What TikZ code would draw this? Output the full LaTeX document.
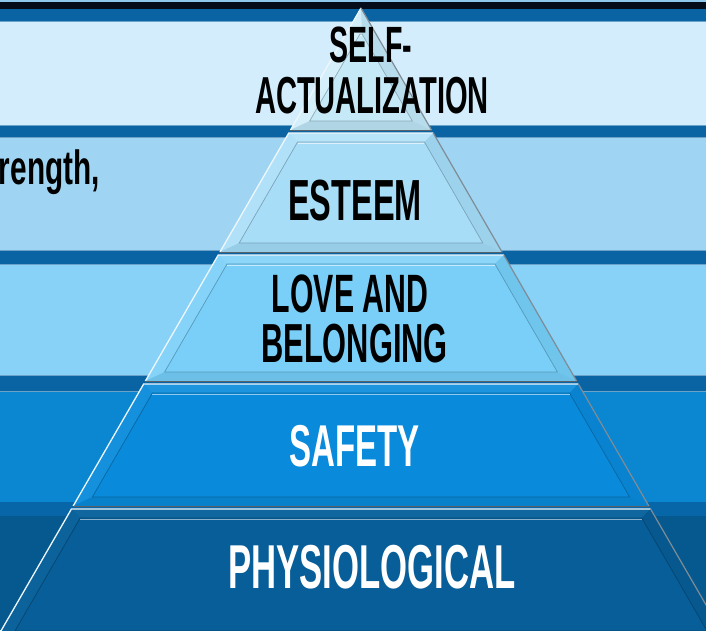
\documentclass[tikz,border=0pt]{standalone}
\usepackage{fontspec}
\newfontfamily\cond{Liberation Sans}[FakeStretch=0.56]
\newfontfamily\condside{Liberation Sans}[FakeStretch=0.62]
\newcommand\fsz[1]{\fontsize{#1}{#1}\selectfont}
\definecolor{topline}{HTML}{8EC8EC}
\definecolor{topblack}{HTML}{050D1A}
\definecolor{stripe}{HTML}{0A64A3}
\definecolor{stripefour}{HTML}{0766A8}
\definecolor{bandA}{HTML}{D3EDFC}
\definecolor{bandB}{HTML}{9FD5F3}
\definecolor{bandC}{HTML}{88D1F7}
\definecolor{bandD}{HTML}{0B86D0}
\definecolor{bandE}{HTML}{06598F}
\definecolor{tAbase}{HTML}{C6E9F8}
\definecolor{tAlight}{HTML}{DDF2FB}
\definecolor{tAdark}{HTML}{B0D6E6}
\definecolor{tBbase}{HTML}{A8DDF8}
\definecolor{tBlight}{HTML}{B8E4FA}
\definecolor{tBdark}{HTML}{98CDE8}
\definecolor{tCbase}{HTML}{7ACFF8}
\definecolor{tClight}{HTML}{8CD6F9}
\definecolor{tCdark}{HTML}{6CC0E8}
\definecolor{tDbase}{HTML}{0A8ADA}
\definecolor{tDlight}{HTML}{1C94DE}
\definecolor{tDdark}{HTML}{0980CA}
\definecolor{tEbase}{HTML}{075E98}
\definecolor{tElight}{HTML}{10669F}
\definecolor{tEdark}{HTML}{06568B}
\definecolor{edgegray}{HTML}{7F8C96}
\definecolor{edgewhite}{HTML}{EEF7FC}
\tikzset{
  lbl/.style={anchor=base, inner sep=0pt, text depth=0pt},
  darktext/.style={text=black},
  lighttext/.style={text=white},
}
% #1 ytop, #2 ybot, #3 base, #4 light, #5 dark, #6 name
\newcommand\pyrtier[6]{%
  \pgfmathsetmacro\wa{0.578*(#1-8)}%
  \pgfmathsetmacro\wb{0.578*(#2-8)}%
  \pgfmathsetmacro\ya{max(#1+9,34)}%
  \pgfmathsetmacro\yb{#2-9}%
  \pgfmathsetmacro\wia{0.578*(\ya-8)-14}%
  \pgfmathsetmacro\wib{0.578*(\yb-8)-14}%
  \coordinate (#6A) at ({361-\wa},#1);
  \coordinate (#6B) at ({361+\wa},#1);
  \coordinate (#6C) at ({361+\wb},#2);
  \coordinate (#6D) at ({361-\wb},#2);
  \coordinate (#6a) at ({361-\wia},\ya);
  \coordinate (#6b) at ({361+\wia},\ya);
  \coordinate (#6c) at ({361+\wib},\yb);
  \coordinate (#6d) at ({361-\wib},\yb);
  \fill[#3] (#6A) -- (#6B) -- (#6C) -- (#6D) -- cycle;
  \fill[#4] (#6A) -- (#6B) -- (#6b) -- (#6a) -- cycle;
  \fill[#4!60!#3] (#6A) -- (#6a) -- (#6d) -- (#6D) -- cycle;
  \fill[#5!70!#3] (#6B) -- (#6C) -- (#6c) -- (#6b) -- cycle;
  \fill[#5] (#6D) -- (#6d) -- (#6c) -- (#6C) -- cycle;
  \draw[#5!80!black, line width=0.7pt] (#6a) -- (#6b) -- (#6c) -- (#6d) -- cycle;
  \draw[#4!50!white, line width=0.6pt] ([yshift=-1.2pt]#6a) -- ([yshift=-1.2pt]#6b);
  \draw[edgewhite, line width=1.3pt] (#6D) -- (#6A) -- (#6B);
  \draw[edgegray, line width=1.2pt] (#6B) -- (#6C);
  \draw[edgegray!70!black, line width=1pt] (#6C) -- (#6D);
}
\begin{document}
\begin{tikzpicture}[x=1pt,y=-1pt]
\useasboundingbox (0,0) rectangle (706,630);
\begin{scope}
\clip (0,0) rectangle (706,630);
% background bands
\fill[topline] (0,0) rectangle (706,2);
\fill[topblack] (0,2) rectangle (706,9);
\fill[stripe] (0,9) rectangle (706,21);
\fill[bandA] (0,21) rectangle (706,125);
\fill[stripe] (0,125) rectangle (706,137);
\fill[bandB] (0,137) rectangle (706,250);
\fill[stripe] (0,250) rectangle (706,264);
\fill[bandC] (0,264) rectangle (706,375);
\fill[stripe] (0,375) rectangle (706,391);
\fill[bandD] (0,391) rectangle (706,502);
\fill[stripefour] (0,502) rectangle (706,516);
\fill[bandE] (0,516) rectangle (706,630);
\draw[stripe!60!white, line width=0.6pt] (0,21) -- (706,21) (0,125) -- (706,125) (0,137) -- (706,137)
  (0,250) -- (706,250) (0,264) -- (706,264) (0,375) -- (706,375) (0,391) -- (706,391);
% side text (cut off)
\node[lbl, anchor=base east, darktext, font=\condside\bfseries\fsz{48}] (side) at (100,184) {rength,};
% pyramid tiers
\pyrtier{8}{130}{tAbase}{tAlight}{tAdark}{ta}
\pyrtier{133}{252}{tBbase}{tBlight}{tBdark}{tb}
\pyrtier{255}{381}{tCbase}{tClight}{tCdark}{tc}
\pyrtier{384}{506}{tDbase}{tDlight}{tDdark}{td}
\pyrtier{509}{640}{tEbase}{tElight}{tEdark}{te}
\end{scope}
% labels
\node[lbl, darktext, text height=34pt, font=\cond\bfseries\fsz{51}] (selfa) at (371,62) {SELF-};
\node[lbl, darktext, text height=35pt, font=\cond\bfseries\fsz{52}] (selfb) at (372,113) {ACTUALIZATION};
\node[lbl, darktext, font=\cond\bfseries\fsz{58}] (esteem) at (355,220) {ESTEEM};
\node[lbl, darktext, text height=37pt, font=\cond\bfseries\fsz{54}] (lovea) at (350,312) {LOVE AND};
\node[lbl, darktext, text height=38pt, font=\cond\bfseries\fsz{55}] (loveb) at (354.5,362) {BELONGING};
\node[lbl, lighttext, font=\cond\bfseries\fsz{59}] (safety) at (354.5,466) {SAFETY};
\node[lbl, lighttext, font=\cond\bfseries\fsz{62}] (phys) at (372,588) {PHYSIOLOGICAL};
\end{tikzpicture}
\end{document}
